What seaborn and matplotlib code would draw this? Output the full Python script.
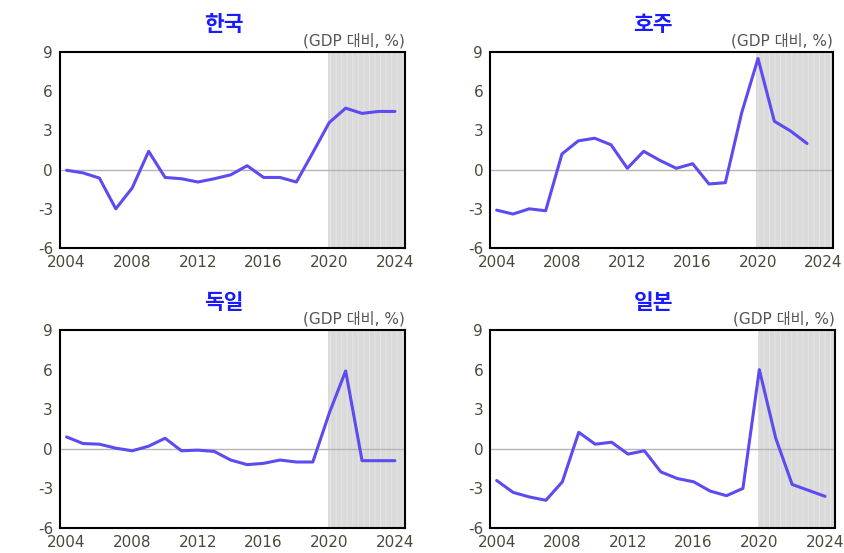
import numpy as np
import pandas as pd
import matplotlib
matplotlib.use('Agg')
import matplotlib.pyplot as plt
import seaborn as sns

# 데이터 (그림에서 읽은 값, GDP 대비 %)
years = list(range(2004, 2025))
korea = [-0.05, -0.25, -0.65, -3.0, -1.4, 1.4, -0.6, -0.7, -0.95, -0.7, -0.4, 0.3,
         -0.6, -0.6, -0.95, 1.3, 3.6, 4.7, 4.3, 4.45, 4.45]
australia = [-3.1, -3.4, -3.0, -3.15, 1.2, 2.2, 2.4, 1.9, 0.1, 1.4, 0.7, 0.1,
             0.45, -1.1, -1.0, 4.35, 8.5, 3.7, 2.95, 2.0, np.nan]
germany = [0.9, 0.4, 0.35, 0.05, -0.15, 0.2, 0.8, -0.15, -0.1, -0.2, -0.85, -1.2,
           -1.1, -0.85, -1.0, -1.0, 2.7, 5.9, -0.9, -0.9, -0.9]
japan = [-2.4, -3.3, -3.65, -3.9, -2.5, 1.25, 0.35, 0.5, -0.4, -0.15, -1.75, -2.25,
         -2.5, -3.2, -3.55, -3.0, 6.0, 0.8, -2.7, -3.15, -3.6]

titles = ['한국', '호주', '독일', '일본']
series = [korea, australia, germany, japan]
unit_label = '(GDP 대비, %)'
yticks = [-6, -3, 0, 3, 6, 9]
xticks = [2004, 2008, 2012, 2016, 2020, 2024]
shade_start = 2019.9

sns.set_style('white')
plt.rcParams['font.family'] = ['DejaVu Sans', 'Noto Sans CJK KR']
plt.rcParams['axes.unicode_minus'] = False
plt.rcParams['hatch.color'] = '#e6e6e6'
plt.rcParams['hatch.linewidth'] = 0.8

fig = plt.figure(figsize=(8.45, 5.53), dpi=100)

# 각 패널 위치 [left, bottom, width, height]
positions = [
    [0.071, 0.5515, 0.408, 0.3545],
    [0.580, 0.5515, 0.406, 0.3545],
    [0.071, 0.0452, 0.408, 0.358],
    [0.580, 0.0452, 0.408, 0.358],
]

tick_color = '#4a4a3a'
line_color = '#5b4bf0'

for pos, title, vals in zip(positions, titles, series):
    ax = fig.add_axes(pos)
    df = pd.DataFrame({'year': years, 'value': vals})
    ax.axvspan(shade_start, 2024.6, facecolor='#dadada', edgecolor='#e4e4e4',
               hatch='|||', linewidth=0, zorder=0)
    ax.axhline(0, color='#b5b5b5', lw=1.0, zorder=1)
    sns.lineplot(data=df, x='year', y='value', ax=ax, color=line_color,
                 lw=2.2, zorder=3)
    ax.set_xlim(2003.6, 2024.6)
    ax.set_ylim(-6, 9)
    ax.set_xticks(xticks)
    ax.set_yticks(yticks)
    ax.set_xlabel('')
    ax.set_ylabel('')
    ax.tick_params(axis='both', direction='in', length=3, width=1,
                   colors='black', labelcolor=tick_color, labelsize=11, pad=5)
    ax.tick_params(axis='x', length=0, pad=5)
    for s in ax.spines.values():
        s.set_color('black')
        s.set_linewidth(1.5)
    ax.text(0.475, 1.14, title, transform=ax.transAxes, ha='center', va='center',
            fontsize=15.5, fontweight='bold', color='#1a1aff',
            family=['Noto Sans CJK KR', 'DejaVu Sans'])
    ax.text(1.0, 1.02, unit_label, transform=ax.transAxes, ha='right',
            va='bottom', fontsize=11, color='#555555',
            family=['DejaVu Sans', 'Noto Sans CJK KR'])

fig.savefig('out.png', dpi=100)
